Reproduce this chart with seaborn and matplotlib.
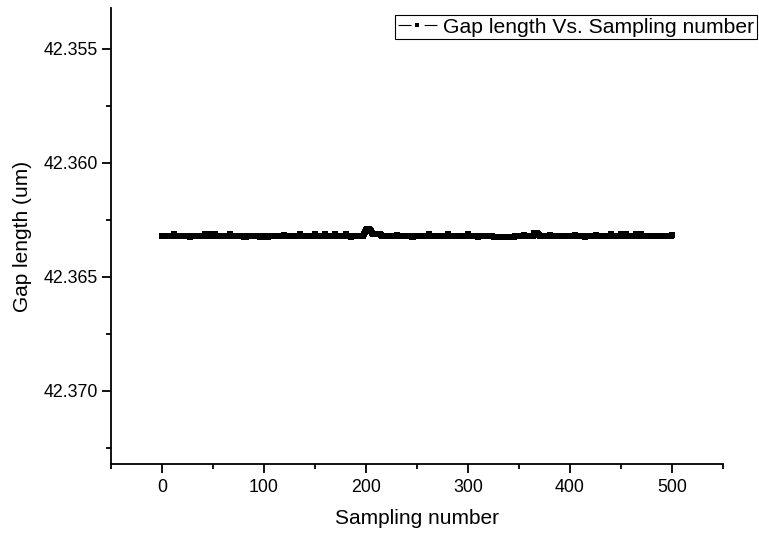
import matplotlib
matplotlib.use("Agg")
import matplotlib.pyplot as plt
import seaborn as sns
import pandas as pd
from matplotlib.ticker import MultipleLocator, FormatStrFormatter
from matplotlib.lines import Line2D

gap_um = [
    42.36320, 42.36320, 42.36320, 42.36320, 42.36320, 42.36320, 42.36320, 42.36320, 42.36320, 42.36320,
    42.36320, 42.36320, 42.36312, 42.36320, 42.36320, 42.36320, 42.36320, 42.36320, 42.36320, 42.36320,
    42.36320, 42.36320, 42.36320, 42.36320, 42.36320, 42.36320, 42.36320, 42.36328, 42.36320, 42.36320,
    42.36320, 42.36320, 42.36320, 42.36320, 42.36320, 42.36320, 42.36320, 42.36320, 42.36320, 42.36320,
    42.36320, 42.36320, 42.36312, 42.36320, 42.36312, 42.36312, 42.36320, 42.36320, 42.36320, 42.36320,
    42.36320, 42.36312, 42.36312, 42.36320, 42.36320, 42.36320, 42.36320, 42.36320, 42.36320, 42.36320,
    42.36320, 42.36320, 42.36320, 42.36320, 42.36320, 42.36320, 42.36320, 42.36312, 42.36320, 42.36320,
    42.36320, 42.36320, 42.36320, 42.36320, 42.36320, 42.36320, 42.36320, 42.36320, 42.36320, 42.36320,
    42.36328, 42.36328, 42.36328, 42.36324, 42.36324, 42.36324, 42.36324, 42.36324, 42.36324, 42.36324,
    42.36324, 42.36324, 42.36324, 42.36324, 42.36324, 42.36324, 42.36328, 42.36328, 42.36328, 42.36328,
    42.36324, 42.36324, 42.36324, 42.36324, 42.36328, 42.36324, 42.36324, 42.36324, 42.36324, 42.36324,
    42.36324, 42.36320, 42.36320, 42.36320, 42.36320, 42.36320, 42.36320, 42.36320, 42.36320, 42.36320,
    42.36316, 42.36320, 42.36320, 42.36320, 42.36320, 42.36320, 42.36320, 42.36320, 42.36320, 42.36320,
    42.36320, 42.36320, 42.36320, 42.36320, 42.36320, 42.36312, 42.36320, 42.36320, 42.36320, 42.36320,
    42.36320, 42.36320, 42.36320, 42.36320, 42.36320, 42.36320, 42.36320, 42.36320, 42.36320, 42.36320,
    42.36312, 42.36320, 42.36320, 42.36320, 42.36320, 42.36320, 42.36320, 42.36320, 42.36320, 42.36320,
    42.36312, 42.36320, 42.36320, 42.36320, 42.36320, 42.36320, 42.36320, 42.36320, 42.36320, 42.36320,
    42.36312, 42.36320, 42.36320, 42.36320, 42.36320, 42.36320, 42.36320, 42.36320, 42.36320, 42.36320,
    42.36312, 42.36320, 42.36320, 42.36320, 42.36320, 42.36328, 42.36320, 42.36320, 42.36320, 42.36320,
    42.36320, 42.36320, 42.36320, 42.36320, 42.36320, 42.36320, 42.36320, 42.36320, 42.36312, 42.36304,
    42.36296, 42.36292, 42.36292, 42.36292, 42.36296, 42.36300, 42.36308, 42.36312, 42.36312, 42.36312,
    42.36312, 42.36312, 42.36312, 42.36312, 42.36312, 42.36316, 42.36320, 42.36320, 42.36320, 42.36320,
    42.36320, 42.36320, 42.36320, 42.36320, 42.36320, 42.36320, 42.36320, 42.36320, 42.36320, 42.36320,
    42.36316, 42.36320, 42.36320, 42.36320, 42.36320, 42.36320, 42.36320, 42.36320, 42.36320, 42.36320,
    42.36320, 42.36320, 42.36320, 42.36320, 42.36320, 42.36328, 42.36328, 42.36320, 42.36320, 42.36320,
    42.36320, 42.36320, 42.36320, 42.36320, 42.36320, 42.36320, 42.36320, 42.36320, 42.36320, 42.36320,
    42.36320, 42.36320, 42.36312, 42.36320, 42.36320, 42.36320, 42.36320, 42.36320, 42.36320, 42.36320,
    42.36320, 42.36320, 42.36320, 42.36320, 42.36320, 42.36320, 42.36320, 42.36320, 42.36320, 42.36320,
    42.36312, 42.36320, 42.36320, 42.36320, 42.36320, 42.36320, 42.36320, 42.36320, 42.36320, 42.36320,
    42.36320, 42.36320, 42.36320, 42.36320, 42.36320, 42.36320, 42.36320, 42.36320, 42.36320, 42.36320,
    42.36312, 42.36320, 42.36320, 42.36320, 42.36320, 42.36320, 42.36320, 42.36320, 42.36320, 42.36320,
    42.36328, 42.36320, 42.36320, 42.36320, 42.36320, 42.36320, 42.36320, 42.36320, 42.36320, 42.36320,
    42.36320, 42.36320, 42.36320, 42.36320, 42.36320, 42.36326, 42.36326, 42.36326, 42.36326, 42.36326,
    42.36326, 42.36326, 42.36326, 42.36328, 42.36326, 42.36326, 42.36328, 42.36326, 42.36326, 42.36326,
    42.36326, 42.36326, 42.36326, 42.36326, 42.36326, 42.36326, 42.36320, 42.36320, 42.36320, 42.36320,
    42.36320, 42.36320, 42.36320, 42.36320, 42.36320, 42.36316, 42.36320, 42.36320, 42.36320, 42.36320,
    42.36320, 42.36320, 42.36320, 42.36320, 42.36320, 42.36308, 42.36308, 42.36308, 42.36308, 42.36312,
    42.36316, 42.36320, 42.36320, 42.36320, 42.36320, 42.36320, 42.36320, 42.36320, 42.36320, 42.36320,
    42.36316, 42.36320, 42.36320, 42.36320, 42.36320, 42.36320, 42.36320, 42.36320, 42.36320, 42.36320,
    42.36320, 42.36320, 42.36320, 42.36320, 42.36320, 42.36320, 42.36320, 42.36320, 42.36320, 42.36320,
    42.36320, 42.36320, 42.36320, 42.36320, 42.36320, 42.36316, 42.36320, 42.36320, 42.36320, 42.36320,
    42.36320, 42.36320, 42.36320, 42.36320, 42.36320, 42.36328, 42.36320, 42.36320, 42.36320, 42.36320,
    42.36320, 42.36320, 42.36320, 42.36320, 42.36320, 42.36316, 42.36320, 42.36320, 42.36320, 42.36320,
    42.36320, 42.36320, 42.36320, 42.36320, 42.36320, 42.36320, 42.36320, 42.36320, 42.36320, 42.36320,
    42.36312, 42.36320, 42.36320, 42.36320, 42.36320, 42.36320, 42.36320, 42.36320, 42.36320, 42.36320,
    42.36312, 42.36320, 42.36320, 42.36320, 42.36320, 42.36312, 42.36320, 42.36320, 42.36320, 42.36320,
    42.36320, 42.36320, 42.36320, 42.36320, 42.36320, 42.36312, 42.36320, 42.36320, 42.36320, 42.36320,
    42.36312, 42.36320, 42.36320, 42.36320, 42.36320, 42.36320, 42.36320, 42.36320, 42.36320, 42.36320,
    42.36320, 42.36320, 42.36320, 42.36320, 42.36320, 42.36320, 42.36320, 42.36320, 42.36320, 42.36320,
    42.36320, 42.36320, 42.36320, 42.36320, 42.36320, 42.36320, 42.36320, 42.36320, 42.36320, 42.36320,
    42.36316,
]
sample_no = list(range(len(gap_um)))
series_label = "Gap length Vs. Sampling number"
x_label = "Sampling number"
y_label = "Gap length (um)"

sns.set_style("ticks")
plt.rcParams["font.family"] = ["Liberation Sans", "DejaVu Sans"]
plt.rcParams["lines.scale_dashes"] = False
plt.rcParams["text.color"] = "black"
plt.rcParams["axes.labelcolor"] = "black"
plt.rcParams["xtick.color"] = "black"
plt.rcParams["ytick.color"] = "black"

df = pd.DataFrame({"Sampling number": sample_no, "Gap": gap_um, "series": series_label})

fig = plt.figure(figsize=(7.59, 5.33), dpi=100)
ax = fig.add_axes([111 / 759, 1 - 464 / 533, (723 - 111) / 759, (464 - 8) / 533])

sns.lineplot(data=df, x="Sampling number", y="Gap", hue="series", palette=["black"],
             marker="s", markersize=3.8, markeredgewidth=0, linewidth=2.0,
             ax=ax, legend=False)

ax.set_xlim(-50, 550)
ax.set_ylim(42.37322, 42.35322)
ax.xaxis.set_major_locator(MultipleLocator(100))
ax.xaxis.set_minor_locator(MultipleLocator(50))
ax.yaxis.set_major_locator(MultipleLocator(0.005))
ax.yaxis.set_minor_locator(MultipleLocator(0.0025))
ax.yaxis.set_major_formatter(FormatStrFormatter("%.3f"))

for side in ["top", "right"]:
    ax.spines[side].set_visible(False)
for side in ["left", "bottom"]:
    ax.spines[side].set_linewidth(1.3)
    ax.spines[side].set_color("black")

ax.tick_params(which="major", direction="out", length=6.5, width=1.3, labelsize=12.8,
               colors="black", labelcolor="black")
ax.tick_params(axis="y", which="major", pad=3)
ax.tick_params(axis="x", which="major", pad=4)
ax.tick_params(which="minor", direction="out", length=3.5, width=1.3, colors="black")

ax.set_xlabel(x_label, fontsize=15, labelpad=10, color="black")
ax.set_ylabel(y_label, fontsize=15, labelpad=8, color="black")

handle = Line2D([], [], color="black", linewidth=0.8, dashes=(9.4, 9.4),
                marker="s", markersize=3.0, markeredgewidth=0)
leg = fig.legend([handle], [series_label], loc="upper right",
                 bbox_to_anchor=(757 / 759, 1 - 15 / 533), fontsize=15.2,
                 frameon=True, fancybox=False, edgecolor="black", framealpha=1,
                 borderpad=0.12, handlelength=1.85, handletextpad=0.3,
                 borderaxespad=0, numpoints=1, labelcolor="black")
leg.get_frame().set_linewidth(0.8)

fig.savefig("out.png", dpi=100)
